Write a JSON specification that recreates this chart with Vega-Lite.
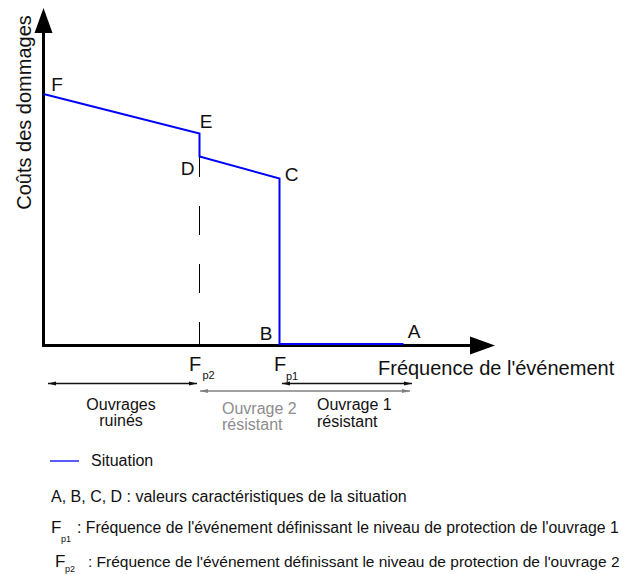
{
  "$schema": "https://vega.github.io/schema/vega-lite/v6.json",
  "width": 629,
  "height": 574,
  "autosize": "none",
  "padding": 0,
  "background": "white",
  "config": {"view": {"stroke": null}, "text": {"font": "Liberation Sans"}},
  "datasets": {
    "situation": [
      {"pt": "F", "o": 1, "X": 0, "Y": 251.5},
      {"pt": "E", "o": 2, "X": 156, "Y": 212},
      {"pt": "D", "o": 3, "X": 156, "Y": 189},
      {"pt": "C", "o": 4, "X": 236, "Y": 167},
      {"pt": "B", "o": 5, "X": 236, "Y": 1.5},
      {"pt": "A", "o": 6, "X": 360, "Y": 1.5}
    ],
    "axes": [
      {"X": -1.5, "X2": 426.5, "Y": 0, "Y2": 0},
      {"X": 0, "X2": 0, "Y": -1.5, "Y2": 312.5}
    ],
    "ranges": [
      {"X": 4.5, "X2": 153.5, "Y": -38, "Y2": -38, "col": "#111111"},
      {"X": 156.5, "X2": 366.5, "Y": -45.5, "Y2": -45.5, "col": "#808080"},
      {"X": 238.5, "X2": 368.5, "Y": -38, "Y2": -38, "col": "#111111"},
      {"X": 6.5, "X2": 35.5, "Y": -115.5, "Y2": -115.5, "col": "#0000ff"}
    ],
    "heads": [
      {"X": 0, "Y": 325, "shp": "M0,-1L-0.72,1L0.72,1Z", "sz": 625, "col": "#000000"},
      {"X": 439, "Y": 0, "shp": "M1,0L-1,-0.72L-1,0.72Z", "sz": 625, "col": "#000000"},
      {"X": 8.5, "Y": -38, "shp": "M-1,0L1,-0.5L1,0.5Z", "sz": 64, "col": "#111111"},
      {"X": 149.5, "Y": -38, "shp": "M1,0L-1,-0.5L-1,0.5Z", "sz": 64, "col": "#111111"},
      {"X": 160.5, "Y": -45.5, "shp": "M-1,0L1,-0.5L1,0.5Z", "sz": 64, "col": "#808080"},
      {"X": 362.5, "Y": -45.5, "shp": "M1,0L-1,-0.5L-1,0.5Z", "sz": 64, "col": "#808080"},
      {"X": 242.5, "Y": -38, "shp": "M-1,0L1,-0.5L1,0.5Z", "sz": 64, "col": "#111111"},
      {"X": 364.5, "Y": -38, "shp": "M1,0L-1,-0.5L-1,0.5Z", "sz": 64, "col": "#111111"}
    ],
    "centerText": [
      {"t": "F", "X": 13.5, "Y": 261, "s": 19, "c": "#111111", "a": 0},
      {"t": "E", "X": 162.5, "Y": 224, "s": 19, "c": "#111111", "a": 0},
      {"t": "D", "X": 144, "Y": 177, "s": 19, "c": "#111111", "a": 0},
      {"t": "C", "X": 248, "Y": 170.5, "s": 19, "c": "#111111", "a": 0},
      {"t": "B", "X": 222.5, "Y": 12, "s": 19, "c": "#111111", "a": 0},
      {"t": "A", "X": 370.5, "Y": 14, "s": 19, "c": "#111111", "a": 0},
      {"t": "F", "X": 151.5, "Y": -19, "s": 20, "c": "#111111", "a": 0},
      {"t": "p2", "X": 165, "Y": -30.5, "s": 11, "c": "#111111", "a": 0},
      {"t": "F", "X": 236.5, "Y": -19, "s": 20, "c": "#111111", "a": 0},
      {"t": "p1", "X": 248.5, "Y": -31.5, "s": 11, "c": "#111111", "a": 0},
      {"t": "Ouvrages", "X": 77.5, "Y": -59.5, "s": 16, "c": "#111111", "a": 0},
      {"t": "ruinés", "X": 77.5, "Y": -75.5, "s": 16, "c": "#111111", "a": 0},
      {"t": "Coûts des dommages", "X": -18.5, "Y": 233, "s": 20, "c": "#111111", "a": 270}
    ],
    "leftText": [
      {"t": "Fréquence de l'événement", "X": 334.5, "Y": -23.5, "s": 20, "c": "#111111"},
      {"t": "Ouvrage 2", "X": 178.5, "Y": -63.5, "s": 16, "c": "#8c8c8c"},
      {"t": "résistant", "X": 178.5, "Y": -79.5, "s": 16, "c": "#8c8c8c"},
      {"t": "Ouvrage 1", "X": 273.5, "Y": -59.5, "s": 16, "c": "#111111"},
      {"t": "résistant", "X": 273.5, "Y": -76.5, "s": 16, "c": "#111111"},
      {"t": "Situation", "X": 47.5, "Y": -115.5, "s": 16, "c": "#111111"},
      {"t": "A, B, C, D : valeurs caractéristiques de la situation", "X": 7.5, "Y": -151.5, "s": 16, "c": "#111111"},
      {"t": "F", "X": 7.5, "Y": -182.5, "s": 17, "c": "#111111"},
      {"t": "p1", "X": 17.5, "Y": -193.5, "s": 9, "c": "#111111"},
      {"t": ": Fréquence de l'événement définissant le niveau de protection de l'ouvrage 1", "X": 33.5, "Y": -182.5, "s": 15.8, "c": "#111111"},
      {"t": "F", "X": 11.5, "Y": -216.5, "s": 17, "c": "#111111"},
      {"t": "p2", "X": 21.5, "Y": -223.5, "s": 9, "c": "#111111"},
      {"t": ": Fréquence de l'événement définissant le niveau de protection de l'ouvrage 2", "X": 44.5, "Y": -216.5, "s": 15.5, "c": "#111111"}
    ]
  },
  "layer": [
    {
      "data": {"name": "axes"},
      "mark": {"type": "rule", "color": "#000000", "strokeWidth": 3},
      "encoding": {
        "x": {"field": "X", "type": "quantitative", "scale": {"domain": [-43.5, 585.5], "nice": false, "zero": false}, "axis": null},
        "x2": {"field": "X2"},
        "y": {"field": "Y", "type": "quantitative", "scale": {"domain": [-228.5, 345.5], "nice": false, "zero": false}, "axis": null},
        "y2": {"field": "Y2"}
      }
    },
    {
      "data": {"values": [{"X": 156, "Y": 197.5, "Y2": 0}]},
      "mark": {"type": "rule", "color": "#000000", "strokeWidth": 1, "strokeDash": [29, 29]},
      "encoding": {
        "x": {"field": "X", "type": "quantitative", "scale": {"domain": [-43.5, 585.5], "nice": false, "zero": false}, "axis": null},
        "y": {"field": "Y", "type": "quantitative", "scale": {"domain": [-228.5, 345.5], "nice": false, "zero": false}, "axis": null},
        "y2": {"field": "Y2"}
      }
    },
    {
      "data": {"name": "situation"},
      "mark": {"type": "line", "color": "#0000ff", "strokeWidth": 2},
      "encoding": {
        "x": {"field": "X", "type": "quantitative", "scale": {"domain": [-43.5, 585.5], "nice": false, "zero": false}, "axis": null},
        "y": {"field": "Y", "type": "quantitative", "scale": {"domain": [-228.5, 345.5], "nice": false, "zero": false}, "axis": null},
        "order": {"field": "o", "type": "quantitative"}
      }
    },
    {
      "data": {"name": "ranges"},
      "mark": {"type": "rule", "strokeWidth": 1.3},
      "encoding": {
        "x": {"field": "X", "type": "quantitative", "scale": {"domain": [-43.5, 585.5], "nice": false, "zero": false}, "axis": null},
        "x2": {"field": "X2"},
        "y": {"field": "Y", "type": "quantitative", "scale": {"domain": [-228.5, 345.5], "nice": false, "zero": false}, "axis": null},
        "color": {"field": "col", "type": "nominal", "scale": null}
      }
    },
    {
      "data": {"name": "heads"},
      "mark": {"type": "point", "filled": true, "opacity": 1, "strokeWidth": 0},
      "encoding": {
        "x": {"field": "X", "type": "quantitative", "scale": {"domain": [-43.5, 585.5], "nice": false, "zero": false}, "axis": null},
        "y": {"field": "Y", "type": "quantitative", "scale": {"domain": [-228.5, 345.5], "nice": false, "zero": false}, "axis": null},
        "shape": {"field": "shp", "type": "nominal", "scale": null},
        "size": {"field": "sz", "type": "quantitative", "scale": null},
        "color": {"field": "col", "type": "nominal", "scale": null}
      }
    },
    {
      "data": {"name": "centerText"},
      "mark": {"type": "text", "align": "center", "baseline": "middle"},
      "encoding": {
        "x": {"field": "X", "type": "quantitative", "scale": {"domain": [-43.5, 585.5], "nice": false, "zero": false}, "axis": null},
        "y": {"field": "Y", "type": "quantitative", "scale": {"domain": [-228.5, 345.5], "nice": false, "zero": false}, "axis": null},
        "text": {"field": "t"},
        "size": {"field": "s", "type": "quantitative", "scale": null},
        "color": {"field": "c", "type": "nominal", "scale": null},
        "angle": {"field": "a", "type": "quantitative", "scale": null}
      }
    },
    {
      "data": {"name": "leftText"},
      "mark": {"type": "text", "align": "left", "baseline": "middle"},
      "encoding": {
        "x": {"field": "X", "type": "quantitative", "scale": {"domain": [-43.5, 585.5], "nice": false, "zero": false}, "axis": null},
        "y": {"field": "Y", "type": "quantitative", "scale": {"domain": [-228.5, 345.5], "nice": false, "zero": false}, "axis": null},
        "text": {"field": "t"},
        "size": {"field": "s", "type": "quantitative", "scale": null},
        "color": {"field": "c", "type": "nominal", "scale": null}
      }
    }
  ]
}
